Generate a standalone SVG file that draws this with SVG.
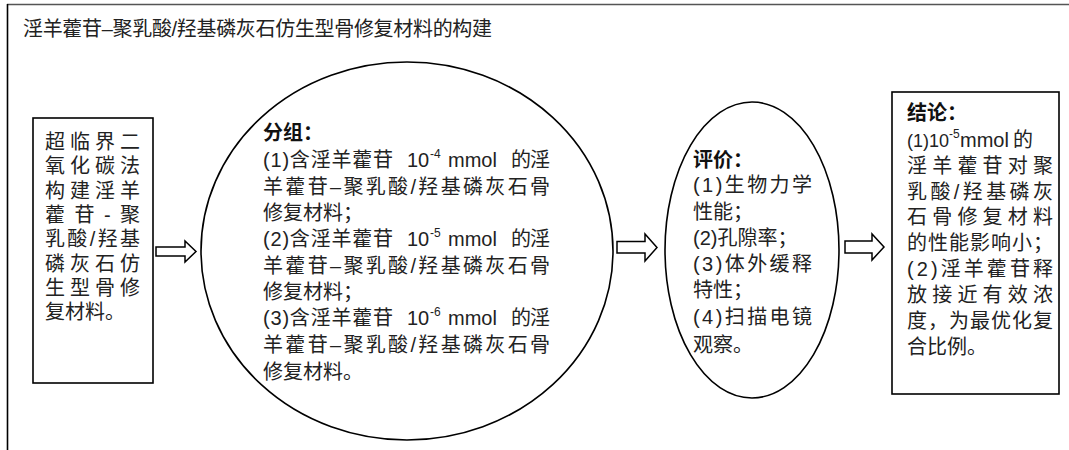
<svg xmlns="http://www.w3.org/2000/svg" width="1069" height="450" viewBox="0 0 1069 450">
<style>
text{font-family:"Liberation Sans","Noto Sans CJK SC",sans-serif;font-size:20px;fill:#222}
.h{font-weight:bold;fill:#111}
.sup{font-size:12px}
.shape{fill:#fff;stroke:#000;stroke-width:1.6}
.arrow{fill:#fff;stroke:#000;stroke-width:1.5;stroke-linejoin:miter}
</style>
<rect width="1069" height="450" fill="#fff"/>
<g id="frame">
<line x1="7" y1="4.5" x2="1069" y2="4.5" stroke="#555" stroke-width="1.6"/>
<line x1="7.5" y1="4" x2="7.5" y2="450" stroke="#000" stroke-width="1.6"/>
<text x="23" y="36" textLength="469" lengthAdjust="spacing">淫羊藿苷–聚乳酸/羟基磷灰石仿生型骨修复材料的构建</text>
</g>
<g id="node-method">
<rect class="shape" x="33" y="118" width="120" height="265"/>
<text x="45" y="149" textLength="95" lengthAdjust="spacing">超临界二</text>
<text x="45" y="173" textLength="95" lengthAdjust="spacing">氧化碳法</text>
<text x="45" y="197.5" textLength="95" lengthAdjust="spacing">构建淫羊</text>
<text x="45" y="222" textLength="95" lengthAdjust="spacing">藿苷-聚</text>
<text x="45" y="246" textLength="95" lengthAdjust="spacing">乳酸/羟基</text>
<text x="45" y="270.5" textLength="95" lengthAdjust="spacing">磷灰石仿</text>
<text x="45" y="295" textLength="95" lengthAdjust="spacing">生型骨修</text>
<text x="45" y="319">复材料。</text>
</g>
<g id="node-groups">
<ellipse class="shape" cx="407" cy="251" rx="206" ry="189"/>
<text class="h" x="263" y="140">分组：</text>
<text x="263" y="167" textLength="130" lengthAdjust="spacing">(1)含淫羊藿苷</text>
<text y="167"><tspan x="407">10</tspan><tspan class="sup" x="430" dy="-9">-4</tspan><tspan x="448" dy="9">mmol</tspan></text>
<text x="511" y="167" textLength="39" lengthAdjust="spacing">的淫</text>
<text x="263" y="194" textLength="287" lengthAdjust="spacing">羊藿苷–聚乳酸/羟基磷灰石骨</text>
<text x="263" y="220">修复材料；</text>
<text x="263" y="246" textLength="130" lengthAdjust="spacing">(2)含淫羊藿苷</text>
<text y="246"><tspan x="407">10</tspan><tspan class="sup" x="430" dy="-9">-5</tspan><tspan x="448" dy="9">mmol</tspan></text>
<text x="511" y="246" textLength="39" lengthAdjust="spacing">的淫</text>
<text x="263" y="273" textLength="287" lengthAdjust="spacing">羊藿苷–聚乳酸/羟基磷灰石骨</text>
<text x="263" y="299">修复材料；</text>
<text x="263" y="325" textLength="130" lengthAdjust="spacing">(3)含淫羊藿苷</text>
<text y="325"><tspan x="407">10</tspan><tspan class="sup" x="430" dy="-9">-6</tspan><tspan x="448" dy="9">mmol</tspan></text>
<text x="511" y="325" textLength="39" lengthAdjust="spacing">的淫</text>
<text x="263" y="352" textLength="287" lengthAdjust="spacing">羊藿苷–聚乳酸/羟基磷灰石骨</text>
<text x="263" y="379">修复材料。</text>
</g>
<g id="node-evaluation">
<ellipse class="shape" cx="752" cy="250" rx="87" ry="148"/>
<text class="h" x="693" y="167">评价：</text>
<text x="693" y="192" textLength="119" lengthAdjust="spacing">(1)生物力学</text>
<text x="693" y="219">性能；</text>
<text x="693" y="245">(2)孔隙率；</text>
<text x="693" y="271" textLength="119" lengthAdjust="spacing">(3)体外缓释</text>
<text x="693" y="297">特性；</text>
<text x="693" y="324" textLength="119" lengthAdjust="spacing">(4)扫描电镜</text>
<text x="693" y="352">观察。</text>
</g>
<g id="node-conclusion">
<rect class="shape" x="892" y="92" width="167" height="302"/>
<text class="h" x="907" y="120">结论：</text>
<text y="147"><tspan x="907" font-size="18">(1)10</tspan><tspan class="sup" x="949" dy="-9">-5</tspan><tspan x="960" dy="9">mmol</tspan><tspan x="1013">的</tspan></text>
<text x="907" y="173" textLength="146" lengthAdjust="spacing">淫羊藿苷对聚</text>
<text x="907" y="199" textLength="146" lengthAdjust="spacing">乳酸/羟基磷灰</text>
<text x="907" y="224" textLength="146" lengthAdjust="spacing">石骨修复材料</text>
<text x="907" y="250" textLength="146" lengthAdjust="spacing">的性能影响小；</text>
<text x="907" y="276" textLength="146" lengthAdjust="spacing">(2)淫羊藿苷释</text>
<text x="907" y="302" textLength="146" lengthAdjust="spacing">放接近有效浓</text>
<text x="907" y="328" textLength="146" lengthAdjust="spacing">度，为最优化复</text>
<text x="907" y="354">合比例。</text>
</g>
<g id="connectors">
<polygon class="arrow" points="156,247 185,247 185,241 196,251.5 185,262 185,256 156,256"/>
<polygon class="arrow" points="617,241.5 645,241.5 645,234 657,247.5 645,261 645,253 617,253"/>
<polygon class="arrow" points="845,241 872,241 872,234 884,247 872,260 872,253 845,253"/>
</g>
</svg>
